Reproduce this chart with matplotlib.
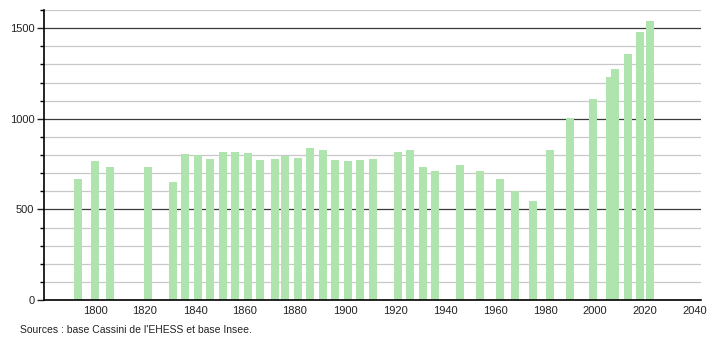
import matplotlib.pyplot as plt
from matplotlib.ticker import MultipleLocator

plt.rcParams['font.family'] = ['Liberation Sans', 'DejaVu Sans']

# census years and population
years = [1793, 1800, 1806, 1821, 1831, 1836, 1841, 1846, 1851, 1856, 1861,
         1866, 1872, 1876, 1881, 1886, 1891, 1896, 1901, 1906, 1911,
         1921, 1926, 1931, 1936, 1946, 1954, 1962, 1968, 1975, 1982,
         1990, 1999, 2006, 2008, 2013, 2018, 2022]
pop = [670, 769, 736, 736, 653, 808, 799, 780, 819, 819, 813,
       771, 780, 793, 786, 841, 830, 775, 769, 775, 780,
       819, 830, 736, 714, 747, 714, 668, 600, 548, 830,
       1003, 1107, 1232, 1273, 1356, 1479, 1538]
xticks = list(range(1800, 2041, 20))
source = "Sources : base Cassini de l'EHESS et base Insee."

fig = plt.figure(figsize=(7.1, 3.4), dpi=100)
ax = fig.add_axes([0.062, 0.1176, 0.925, 0.853])

ax.bar(years, pop, width=3.2, color='#afe4af', zorder=3)

ax.set_xlim(1779.6, 2042.3)
ax.set_ylim(0, 1600)
ax.yaxis.set_major_locator(MultipleLocator(500))
ax.yaxis.set_minor_locator(MultipleLocator(100))
ax.set_xticks(xticks)
ax.grid(axis='y', which='minor', color='#c8c8c8', linewidth=0.9, zorder=1)
ax.grid(axis='y', which='major', color='#3a3a3a', linewidth=0.9, zorder=2)

for s in ['top', 'right']:
    ax.spines[s].set_visible(False)
ax.spines['left'].set_linewidth(1.2)
ax.spines['bottom'].set_linewidth(1.2)
ax.spines['left'].set_zorder(4)
ax.spines['bottom'].set_zorder(4)

ax.tick_params(axis='x', length=0, labelsize=8, pad=4, colors='#222222')
ax.tick_params(axis='y', which='major', length=5, width=1, labelsize=8, pad=2, colors='#222222')
ax.tick_params(axis='y', which='minor', length=3, width=1)

fig.text(0.028, 0.02, source, fontsize=7.5, color='#222222')

fig.savefig('out.png', dpi=100)
